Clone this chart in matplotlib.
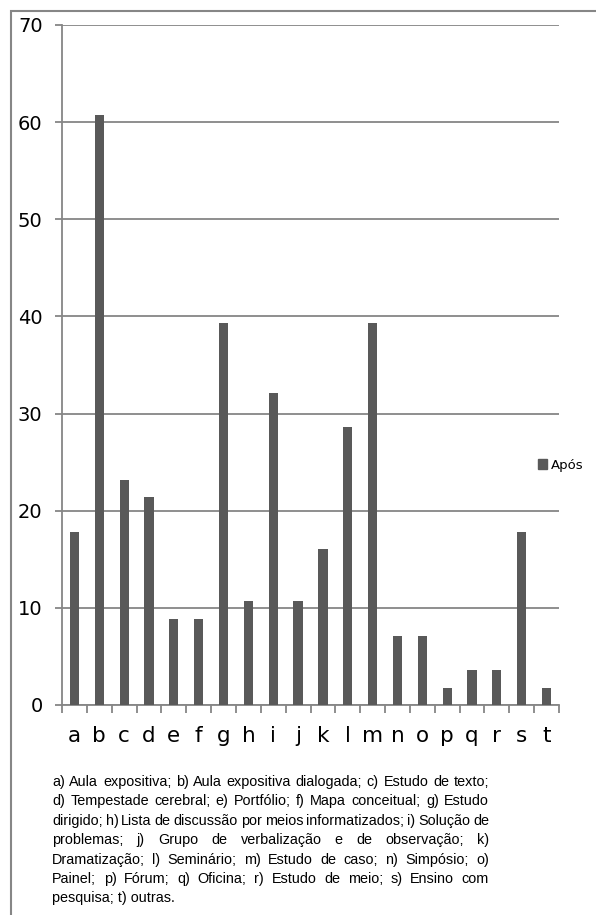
import matplotlib
matplotlib.use('Agg')
import matplotlib.pyplot as plt
from matplotlib.patches import Rectangle, Patch

# Data
categorias=['a','b','c','d','e','f','g','h','i','j','k','l','m','n','o','p','q','r','s','t']
apos=[17.8,60.7,23.2,21.4,8.9,8.9,39.3,10.7,32.1,10.7,16.1,28.6,39.3,7.1,7.1,1.8,3.6,3.6,17.8,1.8]
serie='Após'
yticks=[0,10,20,30,40,50,60,70]
legenda=['a) Aula expositiva; b) Aula expositiva dialogada; c) Estudo de texto;',
         'd) Tempestade cerebral; e) Portfólio; f) Mapa conceitual; g) Estudo',
         'dirigido; h) Lista de discussão por meios informatizados; i) Solução de',
         'problemas; j) Grupo de verbalização e de observação; k)',
         'Dramatização; l) Seminário; m) Estudo de caso; n) Simpósio; o)',
         'Painel; p) Fórum; q) Oficina; r) Estudo de meio; s) Ensino com',
         'pesquisa; t) outras.']

W,H=596,915
barcolor='#595959'
gridcolor='#868686'

fig=plt.figure(figsize=(W/100,H/100),dpi=100)
ax=fig.add_axes([62/W,1-705/H,(559-62)/W,(705-25)/H])

x=list(range(len(categorias)))
ax.bar(x,apos,width=0.37,color=barcolor,zorder=3,label=serie)
ax.set_xlim(-0.5,len(categorias)-0.5)
ax.set_ylim(0,70)
ax.set_yticks(yticks)
ax.yaxis.grid(True,color=gridcolor,linewidth=1.3)
ax.set_axisbelow(True)
for s in ['top','right']:
    ax.spines[s].set_visible(False)
for s in ['left','bottom']:
    ax.spines[s].set_color(gridcolor)
    ax.spines[s].set_linewidth(1.3)
ax.set_xticks(x,categorias)
ax.set_xticks([i-0.5 for i in range(len(categorias)+1)],minor=True)
ax.tick_params(axis='x',which='major',length=0,pad=15,labelsize=15.5)
ax.tick_params(axis='x',which='minor',length=6,width=1.3,color=gridcolor,direction='out')
ax.tick_params(axis='y',length=5,width=1.3,color=gridcolor,pad=9,labelsize=14)

# Legend
fig.legend(handles=[Patch(color=barcolor,label=serie)],loc='center left',
           bbox_to_anchor=(531/W,1-465/H),frameon=False,fontsize=9.5,
           handlelength=0.7,handleheight=0.7,handletextpad=0.3,borderpad=0)

# Outer frame (top and left visible)
fig.add_artist(Rectangle((11/W,-0.1),1.2,1.1-11/H,transform=fig.transFigure,
                         fill=False,edgecolor=gridcolor,linewidth=1.5))

# Justified caption
x0,x1=52,489
y0,dy=782,19.4
r=fig.canvas.get_renderer()
fam='Liberation Sans'
fs=10.4
for k,line in enumerate(legenda):
    yf=1-(y0+k*dy)/H
    words=line.split(' ')
    if k==len(legenda)-1:
        fig.text(x0/W,yf,line,fontsize=fs,family=fam,va='center',ha='left')
        continue
    ts=[fig.text(0,yf,w_,fontsize=fs,family=fam,va='center',ha='left') for w_ in words]
    ws=[t.get_window_extent(r).width for t in ts]
    gap=((x1-x0)-sum(ws))/(len(words)-1)
    pos=x0
    for t,w_ in zip(ts,ws):
        t.set_x(pos/W)
        pos+=w_+gap

fig.savefig('out.png',dpi=100)
